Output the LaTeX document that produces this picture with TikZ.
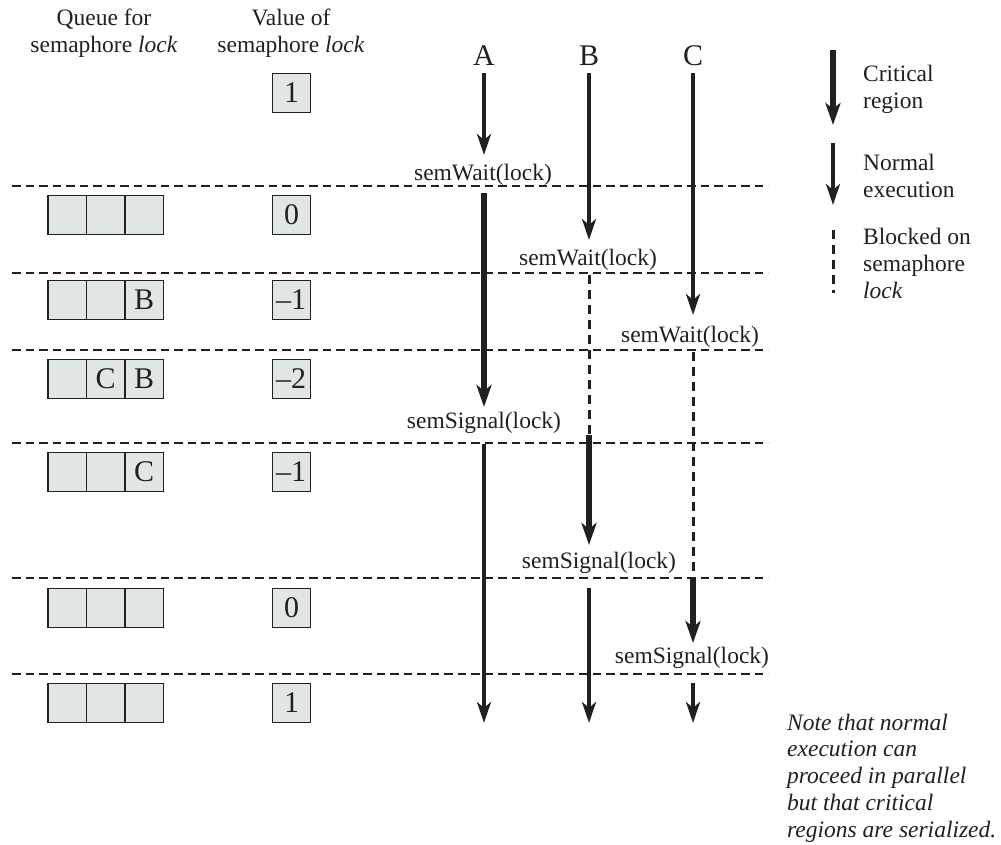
\documentclass[tikz,border=0pt]{standalone}
\usepackage{fontspec}
\setmainfont{Liberation Serif}
\usetikzlibrary{arrows.meta}
\definecolor{ink}{RGB}{35,31,32}
\definecolor{cellfill}{RGB}{224,230,230}
\begin{document}
\begin{tikzpicture}[x=1pt,y=-1pt,
  lbl/.style={font=\fontsize{23.5}{27}\selectfont, text=ink, inner sep=0pt},
  big/.style={font=\fontsize{30}{32}\selectfont, text=ink, inner sep=0pt},
  cell/.style={draw=ink, line width=1.3pt, fill=cellfill, minimum width=38.5pt, minimum height=38.5pt, inner sep=0pt, font=\fontsize{30}{32}\selectfont, text=ink},
  sepline/.style={draw=ink, line width=1.3pt, dash pattern=on 8.5pt off 5pt},
  normalarr/.style={draw=ink, line width=3.5pt, -{Stealth[length=21pt,width=14pt,inset=6pt]}},
  critarr/.style={draw=ink, line width=5.5pt, -{Stealth[length=22pt,width=15pt,inset=6pt]}},
  blockarr/.style={draw=ink, line width=3pt, dash pattern=on 9pt off 6pt},
]
\useasboundingbox (0,0) rectangle (1001,844);

% headers
\node[lbl, align=center] (hq) at (104,33) {Queue for\\semaphore \textit{lock}};
\node[lbl, align=center] (hv) at (291,33) {Value of\\semaphore \textit{lock}};
\node[big] (pA) at (484,56) {A};
\node[big] (pB) at (589,56) {B};
\node[big] (pC) at (693,56) {C};

% separators
\foreach \yy/\nm in {186/s1,273/s2,350/s3,443/s4,578/s5,674/s6}{
  \coordinate (\nm l) at (12,\yy);
  \coordinate (\nm r) at (768,\yy);
  \draw[sepline] (\nm l) -- (\nm r);
}

% value boxes
\node[cell] (v0) at (291.5,93) {1};
\node[cell] (v1) at (291.5,215) {0};
\node[cell] (v2) at (291.5,300) {\kern-1pt\textendash1};
\node[cell] (v3) at (291.5,379) {\kern-1pt\textendash2};
\node[cell] (v4) at (291.5,472) {\kern-1pt\textendash1};
\node[cell] (v5) at (291.5,608) {0};
\node[cell] (v6) at (291.5,703) {1};

% queue boxes
\foreach \yy/\nm/\ca/\cb/\cc in {215/q1/{}/{}/{}, 300/q2/{}/{}/B, 379/q3/{}/C/B, 472/q4/{}/{}/C, 608/q5/{}/{}/{}, 703/q6/{}/{}/{}}{
  \node[cell] (\nm a) at (67.25,\yy) {\ca};
  \node[cell] (\nm b) at (105.75,\yy) {\cb};
  \node[cell] (\nm c) at (144.25,\yy) {\cc};
}

% labels
\node[lbl] (wA) at (483,175) {semWait(lock)};
\node[lbl] (wB) at (588,260) {semWait(lock)};
\node[lbl] (wC) at (690,337) {semWait(lock)};
\node[lbl] (gA) at (484,423) {semSignal(lock)};
\node[lbl] (gB) at (599,563) {semSignal(lock)};
\node[lbl] (gC) at (692,658) {semSignal(lock)};

% process A
\coordinate (a0) at (484,73);  \coordinate (a1) at (484,155);
\coordinate (a2) at (484,193); \coordinate (a3) at (484,407);
\coordinate (a4) at (484,444); \coordinate (a5) at (484,723);
\draw[normalarr] (a0) -- (a1);
\draw[critarr] (a2) -- (a3);
\draw[normalarr] (a4) -- (a5);

% process B
\coordinate (b0) at (589,73);  \coordinate (b1) at (589,240);
\coordinate (b2) at (589,275); \coordinate (b3) at (589,435);
\coordinate (b4) at (589,545);
\coordinate (b5) at (589,588); \coordinate (b6) at (589,723);
\draw[normalarr] (b0) -- (b1);
\draw[blockarr] (b2) -- (b3);
\draw[critarr] (b3) -- (b4);
\draw[normalarr] (b5) -- (b6);

% process C
\coordinate (c0) at (693,73);  \coordinate (c1) at (693,315);
\coordinate (c2) at (693,352); \coordinate (c3) at (693,572);
\coordinate (c4) at (693,578); \coordinate (c5) at (693,643);
\coordinate (c6) at (693,683); \coordinate (c7) at (693,723);
\draw[normalarr] (c0) -- (c1);
\draw[blockarr] (c2) -- (c3);
\draw[critarr] (c4) -- (c5);
\draw[normalarr] (c6) -- (c7);

% legend
\coordinate (l0) at (833,50);  \coordinate (l1) at (833,125);
\coordinate (l2) at (833,143); \coordinate (l3) at (833,205);
\coordinate (l4) at (833,230); \coordinate (l5) at (833,293);
\draw[critarr] (l0) -- (l1);
\draw[normalarr] (l2) -- (l3);
\draw[blockarr] (l4) -- (l5);
\node[lbl, align=left, anchor=west] (t1) at (863,89) {Critical\\region};
\node[lbl, align=left, anchor=west] (t2) at (863,176) {Normal\\execution};
\node[lbl, align=left, anchor=west] (t3) at (863,263) {Blocked on\\semaphore\\\textit{lock}};

% note
\node[lbl, align=left, anchor=west, font=\fontsize{23.5}{26.7}\selectfont\itshape] (note) at (787,778) {Note that normal\\execution can\\proceed in parallel\\but that critical\\regions are serialized.};
\end{tikzpicture}
\end{document}
